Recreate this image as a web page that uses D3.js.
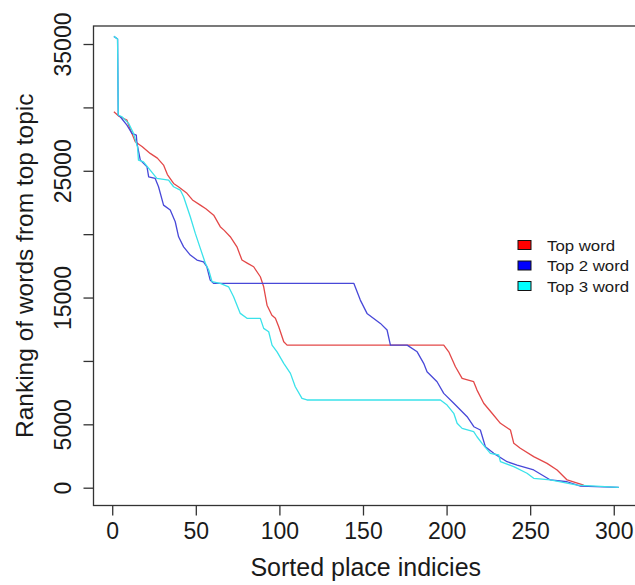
<!DOCTYPE html>
<html>
<head>
<meta charset="utf-8">
<script src="https://cdn.jsdelivr.net/npm/d3@7"></script>
<style>
  html, body { margin: 0; padding: 0; background: #fff; }
  svg { display: block; font-family: "Liberation Sans", Arial, Helvetica, sans-serif; }
</style>
</head>
<body>
<svg id="chart" width="635" height="585"></svg>
<script>
// Ranking of the top-topic word for each place, places sorted by rank.
// Each series is a list of [place index, ranking] vertices.
const topWord = [
  [1, 29650], [4, 29300], [8.8, 28990], [11, 28200], [13.8, 27290], [18, 26900],
  [22.7, 26370], [27, 26000], [30.7, 25450], [33, 24700], [36.7, 24000], [40, 23700],
  [44.7, 23220], [48, 22700], [52.7, 22290], [56, 22000], [60.7, 21500], [64.6, 20590],
  [67, 20300], [70.6, 19800], [74.6, 19000], [77.6, 17960], [81, 17700], [84.6, 17430],
  [88.6, 16640], [90.6, 15850], [92.6, 14400], [95.5, 13600], [97.6, 13360], [99.6, 12700],
  [102.6, 11510], [104.6, 11250], [198.3, 11250], [201.3, 10720], [205.3, 9540],
  [209.3, 8630], [216.2, 8360], [218.2, 7700], [222.2, 6660], [227.2, 5870], [232.2, 5080],
  [238.2, 4550], [240.2, 3500], [244.1, 3110], [252.1, 2450], [260.1, 1920], [266.1, 1400],
  [272.1, 610], [282, 200]
];

const top2Word = [
  [1, 35600], [3.2, 35400], [3.6, 29400], [4.8, 29260], [8.8, 28600], [11.8, 27950],
  [14.4, 27810], [14.8, 27160], [16.8, 25840], [20.8, 25310], [21.8, 24520], [25.7, 24400],
  [27.7, 23740], [30.7, 22290], [34.7, 21900], [37.7, 20980], [39.7, 19790], [42.7, 19000],
  [46.7, 18350], [50.7, 17960], [54.6, 17820], [56.6, 17430], [58.6, 16380], [60.6, 16120],
  [144.5, 16120], [148.4, 14800], [152.4, 13750], [160.4, 12960], [164.4, 12440],
  [166.4, 11250], [176.4, 11250], [182.4, 10720], [186.3, 9810], [188.3, 9150],
  [194.3, 8360], [198.3, 7440], [204.3, 6660], [208.3, 6130], [212.3, 5600], [216.3, 4810],
  [220.2, 4550], [223.2, 3230], [228.2, 2710], [236.2, 2050], [242.2, 1790], [252.1, 1400],
  [262.1, 610], [272.1, 470], [280.1, 130], [303, 30]
];

const top3Word = [
  [1, 35600], [3.2, 35400], [3.6, 29400], [5.8, 29260], [9.8, 28740], [12.7, 27950],
  [15.1, 26890], [15.7, 25840], [18.7, 25710], [22.7, 25050], [26.7, 24400], [33.7, 24270],
  [36.7, 23740], [40.7, 23480], [42.7, 22950], [46.7, 21370], [49.7, 20060], [52.7, 18880],
  [55.7, 17700], [57.7, 17170], [59.7, 16250], [64.6, 16120], [69.6, 15850], [72.6, 15060],
  [76.6, 13750], [80.6, 13360], [88.6, 13360], [90.6, 12570], [93.6, 12300], [95.6, 11250],
  [98.6, 10720], [102.6, 9810], [106.6, 9020], [109.5, 7960], [113.5, 7050], [116.5, 6920],
  [196.3, 6920], [200.3, 6520], [204.3, 5870], [206.3, 5080], [209.3, 4680], [216.2, 4420],
  [218.2, 4020], [221.2, 3500], [226.2, 2710], [231.2, 2580], [232.2, 2050], [240.2, 1660],
  [248.1, 1140], [252.1, 740], [262.1, 610], [278.1, 210], [303, 30]
];

const seriesNames = ["Top word", "Top 2 word", "Top 3 word"];
const lineColors = ["#e34848", "#4848d8", "#3ae2ea"];
const keyColors = ["#ff0000", "#0000ff", "#00ffff"];

const xTicks = [0, 50, 100, 150, 200, 250, 300];
const yTicks = [0, 5000, 10000, 15000, 20000, 25000, 30000, 35000];
const yTickLabels = ["0", "5000", "", "15000", "", "25000", "", "35000"];

const xTitle = "Sorted place indicies";
const yTitle = "Ranking of words from top topic";

// ---- layout ----
const box = { left: 93.5, right: 638, top: 26, bottom: 505.5 };
const svg = d3.select("#chart");

const x = d3.scaleLinear().domain([-11.2, 314.5]).range([box.left, box.right]);
const y = d3.scaleLinear().domain([-1404, 36421]).range([box.bottom, box.top]);

const axisColor = "#333";
const textColor = "#1a1a1a";

// x axis
const xAxis = d3.axisBottom(x).tickValues(xTicks).tickSize(10).tickPadding(7)
  .tickFormat(d3.format("d"));
const gx = svg.append("g").attr("transform", `translate(0,${box.bottom})`).call(xAxis);
gx.select(".domain").remove();
gx.selectAll(".tick line").attr("stroke", axisColor).attr("stroke-width", 1.3);
gx.selectAll(".tick text").attr("font-size", 23).attr("fill", textColor)
  .attr("font-family", "Liberation Sans, Arial, sans-serif");

// y axis with labels rotated to run along the axis
const yAxis = d3.axisLeft(y).tickValues(yTicks).tickSize(10).tickFormat("");
const gy = svg.append("g").attr("transform", `translate(${box.left},0)`).call(yAxis);
gy.select(".domain").remove();
gy.selectAll(".tick line").attr("stroke", axisColor).attr("stroke-width", 1.3);
gy.selectAll(".tick").append("text")
  .attr("transform", "translate(-23,0) rotate(-90)")
  .attr("text-anchor", "middle")
  .attr("font-size", 23)
  .attr("fill", textColor)
  .text((d, i) => yTickLabels[i]);

// plot frame
svg.append("rect")
  .attr("x", box.left).attr("y", box.top)
  .attr("width", box.right - box.left).attr("height", box.bottom - box.top)
  .attr("fill", "none").attr("stroke", axisColor).attr("stroke-width", 1.3);

// series lines
const line = d3.line().x(d => x(d[0])).y(d => y(d[1]));
[topWord, top2Word, top3Word].forEach((data, i) => {
  svg.append("path")
    .datum(data)
    .attr("d", line)
    .attr("fill", "none")
    .attr("stroke", lineColors[i])
    .attr("stroke-width", 1.3)
    .attr("stroke-linejoin", "round");
});

// axis titles
svg.append("text")
  .attr("x", (box.left + box.right) / 2).attr("y", 576)
  .attr("text-anchor", "middle").attr("font-size", 25).attr("fill", textColor)
  .text(xTitle);

svg.append("text")
  .attr("transform", `translate(33,${(box.top + box.bottom) / 2}) rotate(-90)`)
  .attr("text-anchor", "middle").attr("font-size", 24.5).attr("fill", textColor)
  .text(yTitle);

// legend
const legend = svg.append("g").attr("transform", "translate(518,245)");
seriesNames.forEach((name, i) => {
  const row = legend.append("g").attr("transform", `translate(0,${i * 20.5})`);
  row.append("rect")
    .attr("x", 0).attr("y", -4.5).attr("width", 13).attr("height", 9)
    .attr("fill", keyColors[i]).attr("stroke", "#111").attr("stroke-width", 1);
  row.append("text")
    .attr("transform", "translate(29,5.5) scale(1.12,1)")
    .attr("font-size", 15).attr("fill", textColor)
    .text(name);
});
</script>
</body>
</html>
